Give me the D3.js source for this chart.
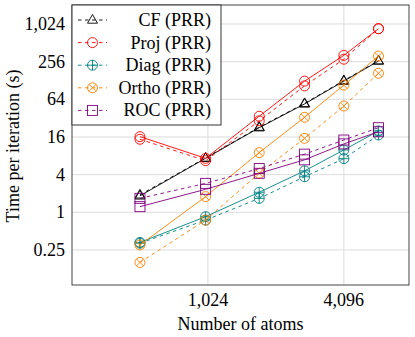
<!DOCTYPE html>
<html>
<head>
<meta charset="utf-8">
<script src="https://cdn.jsdelivr.net/npm/d3@7"></script>
</head>
<body style="margin:0">
<script>
const atoms = [512, 1000, 1728, 2744, 4096, 5832]
const xTicks = [1024, 4096]
const yTicks = [0.25, 1, 4, 16, 64, 256, 1024]

const cfSolid = [1.83, 7.3, 22.5, 54, 125, 262]
const cfDashed = [1.9, 7.4, 23, 55, 128, 265]
const projSolid = [16.2, 7.3, 34.3, 125, 323, 861]
const projDashed = [14.7, 6.7, 29, 105, 280, 861]
const diagSolid = [0.33, 0.85, 2.09, 4.6, 9.9, 20]
const diagDashed = [0.32, 0.75, 1.67, 3.7, 7.2, 17.2]
const orthoSolid = [0.3, 1.78, 9.0, 33, 108, 315]
const orthoDashed = [0.158, 0.75, 4.2, 15.2, 50, 167]
const rocSolid = [1.23, 2.33, 4.2, 6.9, 12.4, 19.4]
const rocDashed = [1.67, 2.9, 5.0, 8.5, 14.3, 22.5]

const names = ["CF", "Proj", "Diag", "Ortho", "ROC"]
const colors = ["#000000", "#ff0000", "#008080", "#ff8000", "#800080"]
const markers = ["triangle", "circle", "oplus", "otimes", "square"]
const solidSeries = [cfSolid, projSolid, diagSolid, orthoSolid, rocSolid]
const dashedSeries = [cfDashed, projDashed, diagDashed, orthoDashed, rocDashed]

const w = 415
const h = 337
const padL = 72, padR = 409, padT = 5, padB = 285

const svg = d3.select("body").append("svg")
  .attr("width", w)
  .attr("height", h)

const xScale = d3.scaleLog().base(2)
  .domain([256, 7960])
  .range([padL, padR])

const yScale = d3.scaleLog().base(2)
  .domain([0.0688, 2060])
  .range([padB, padT])

// grid
svg.selectAll(".xgrid").data(xTicks).enter().append("line")
  .attr("x1", d => xScale(d)).attr("x2", d => xScale(d))
  .attr("y1", padT).attr("y2", padB)
  .attr("stroke", "#dcdcdc").attr("stroke-width", 1)
svg.selectAll(".ygrid").data(yTicks).enter().append("line")
  .attr("y1", d => yScale(d)).attr("y2", d => yScale(d))
  .attr("x1", padL).attr("x2", padR)
  .attr("stroke", "#dcdcdc").attr("stroke-width", 1)

// frame
svg.append("rect")
  .attr("x", padL).attr("y", padT)
  .attr("width", padR - padL).attr("height", padB - padT)
  .attr("fill", "none").attr("stroke", "#444").attr("stroke-width", 1)

// tick labels drawn as plain text, from the scales
const fmt = d3.format(",")
function label(x, y, anchor, txt) {
  return svg.append("text")
    .attr("x", x).attr("y", y)
    .attr("text-anchor", anchor)
    .attr("font-size", 18)
    .style("font-family", "'Liberation Serif'")
    .text(txt)
}
xTicks.forEach(t => label(xScale(t), padB + 21, "middle", fmt(t)))
yTicks.forEach(t => label(padL - 7, yScale(t) + 6, "end", fmt(t)))

label((padL + padR) / 2, 330, "middle", "Number of atoms")
label(0, 0, "middle", "Time per iteration (s)")
  .attr("transform", "translate(19,146) rotate(-90)")

const r = 5
function drawMarker(g, type, x, y, color) {
  const m = g.append("g").attr("transform", "translate(" + x + "," + y + ")")
    .attr("fill", "none").attr("stroke", color).attr("stroke-width", 0.9)
  if (type == "triangle") {
    m.append("path").attr("d", "M0,-5.5L5,3.2L-5,3.2Z")
  } else if (type == "square") {
    m.append("rect").attr("x", -5).attr("y", -5).attr("width", 10).attr("height", 10)
  } else {
    m.append("circle").attr("r", r)
    if (type == "oplus") {
      m.append("path").attr("d", "M-5,0H5M0,-5V5")
    } else if (type == "otimes") {
      const k = r * Math.SQRT1_2
      m.append("path").attr("d", "M" + -k + "," + -k + "L" + k + "," + k + "M" + -k + "," + k + "L" + k + "," + -k)
    }
  }
}

const line = d3.line()
  .x((d, i) => xScale(atoms[i]))
  .y(d => yScale(d))

const plot = svg.append("g")

names.forEach((name, s) => {
  [solidSeries[s], dashedSeries[s]].forEach((vals, k) => {
    const g = plot.append("g")
    g.append("path")
      .datum(vals)
      .attr("d", line)
      .attr("fill", "none")
      .attr("stroke", colors[s])
      .attr("stroke-width", 0.9)
      .attr("stroke-dasharray", k == 1 ? "3.5,3.5" : null)
    vals.forEach((v, i) => drawMarker(g, markers[s], xScale(atoms[i]), yScale(v), colors[s]))
  })
})

// legend
svg.append("rect")
  .attr("x", padL).attr("y", padT)
  .attr("width", 149).attr("height", 120)
  .attr("fill", "#fff").attr("stroke", "#333").attr("stroke-width", 1)

names.forEach((name, s) => {
  const y = 20 + s * 22.6
  svg.append("line")
    .attr("x1", 78).attr("x2", 107)
    .attr("y1", y).attr("y2", y)
    .attr("stroke", colors[s]).attr("stroke-width", 0.9)
    .attr("stroke-dasharray", "3.5,3.5")
  drawMarker(svg, markers[s], 92.5, y, colors[s])
  label(211, y + 6, "end", name + " (PRR)")
})
</script>
</body>
</html>
